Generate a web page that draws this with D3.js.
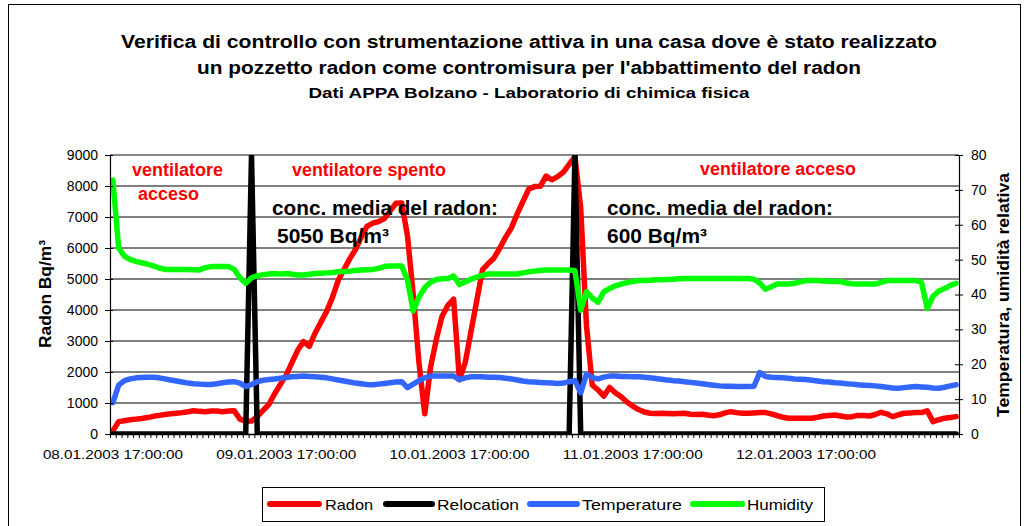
<!DOCTYPE html>
<html><head><meta charset="utf-8">
<script src="https://cdn.jsdelivr.net/npm/d3@7"></script>
<style>
body{margin:0;background:#fff}
svg{display:block}
text{font-family:"Liberation Sans",Arial,sans-serif}
</style>
</head><body>
<svg id="c" width="1028" height="526"></svg>
<script>
// ---------- DATA ----------
const tickLabels = ["08.01.2003 17:00:00","09.01.2003 17:00:00","10.01.2003 17:00:00","11.01.2003 17:00:00","12.01.2003 17:00:00"];
const labelEvery = 30; // one label every 30 readings
const seriesNames = ["Radon","Relocation","Temperature","Humidity"];
const seriesColors = ["#ff0000","#000000","#3366ff","#00ff00"];

const radon = [
100,400,430,460,480,500,530,570,600,630,
650,670,690,720,750,730,720,745,740,720,
740,750,480,410,420,560,760,950,1300,1600,
1900,2300,2700,2980,2830,3250,3600,3950,4400,4950,
5300,5650,5950,6350,6700,6800,6850,6950,7200,7440,
7450,6400,4500,2300,650,2150,3050,3800,4150,4350,
1750,2300,3300,4300,5300,5500,5680,6000,6350,6650,
7100,7500,7900,7980,7990,8320,8200,8300,8450,8700,
8950,7300,3500,1580,1420,1220,1500,1330,1200,1030,
900,790,710,670,665,670,660,650,660,670,
640,630,640,610,590,620,680,720,690,670,
670,680,690,690,650,590,540,510,505,510,
505,510,540,580,600,610,580,550,560,600,
600,580,630,700,650,560,620,670,680,690,
690,750,400,460,510,530,560];

const relocation = [
0,0,0,0,0,0,0,0,0,0,
0,0,0,0,0,0,0,0,0,0,
0,0,0,0,9000,0,0,0,0,0,
0,0,0,0,0,0,0,0,0,0,
0,0,0,0,0,0,0,0,0,0,
0,0,0,0,0,0,0,0,0,0,
0,0,0,0,0,0,0,0,0,0,
0,0,0,0,0,0,0,0,0,0,
9000,0,0,0,0,0,0,0,0,0,
0,0,0,0,0,0,0,0,0,0,
0,0,0,0,0,0,0,0,0,0,
0,0,0,0,0,0,0,0,0,0,
0,0,0,0,0,0,0,0,0,0,
0,0,0,0,0,0,0,0,0,0,
0,0,0,0,0,0,0];

const temperature = [
9,14,15.3,15.8,16.1,16.2,16.3,16.3,16.1,15.8,
15.5,15.2,14.9,14.6,14.4,14.3,14.2,14.2,14.4,14.7,
14.9,15,14.6,13.6,14.2,15,15.4,15.6,15.8,16,
16.2,16.4,16.5,16.6,16.5,16.4,16.3,16.1,15.8,15.5,
15.2,14.9,14.6,14.4,14.2,14.1,14.3,14.5,14.7,14.9,
15,13.3,14.3,15.3,16.1,16.6,16.6,16.6,16.6,16.6,
15.6,16.1,16.4,16.4,16.4,16.3,16.3,16.2,16,15.8,
15.5,15.2,15,14.9,14.8,14.7,14.6,14.5,14.6,15,
15.3,11.8,17.2,16.2,15.8,16.3,16.6,16.6,16.5,16.5,
16.4,16.4,16.3,16.1,15.9,15.7,15.5,15.3,15.2,15,
14.8,14.6,14.4,14.2,14,13.8,13.7,13.7,13.6,13.6,
13.6,13.7,17.6,16.5,16.3,16.2,16.1,16,15.8,15.7,
15.6,15.4,15.2,15,14.9,14.7,14.6,14.4,14.3,14.1,
14,13.9,13.8,13.6,13.4,13.2,13.1,13.3,13.5,13.6,
13.5,13.4,13.2,13.1,13.4,13.8,14.1];

const humidity = [
72.8,53.3,51,50,49.5,49.1,48.7,48.2,47.6,47.2,
47.2,47.2,47.2,47.2,47.1,47,47.7,48,48,48,
48,47.2,44.8,43.2,44.8,45.4,45.7,45.9,46,45.9,
46,45.8,45.6,45.6,45.8,46,46.1,46.2,46.3,46.5,
46.6,46.7,46.9,47,47.1,47.2,47.5,48,48.2,48.2,
48.2,44.2,35.3,39.3,42,43.5,44.3,44.5,44.6,45.3,
42.9,43.6,44.4,45,45.5,45.9,45.9,45.9,45.9,45.9,
45.9,46.2,46.5,46.7,46.9,47,47,47,47,47,
46.8,35.5,40.8,39,37.8,40.8,41.7,42.5,43,43.4,
43.7,44,44,44.1,44.2,44.2,44.3,44.4,44.5,44.6,
44.6,44.6,44.6,44.6,44.6,44.6,44.6,44.6,44.6,44.6,
44.6,44.4,43.3,41.5,42.2,43,43,43,43.2,43.6,
44,44,44,43.9,43.8,43.7,43.7,43.3,43.1,43,
43,43,43,43.5,44,44,44,44,44,44,
43.5,36,39.5,41,41.7,42.6,43.2];

const leftTicks = [0,1000,2000,3000,4000,5000,6000,7000,8000,9000];
const rightTicks = [0,10,20,30,40,50,60,70,80];

// ---------- LAYOUT ----------
const svg = d3.select("#c");
const L = 110, R = 959, T = 155, B = 434;
const N = radon.length;

svg.append("rect").attr("x",8.5).attr("y",4.5).attr("width",1012).attr("height",560)
  .attr("fill","none").attr("stroke","#000").attr("stroke-width",1);

const x = d3.scaleBand().domain(d3.range(N)).range([L,R]).padding(0);
const xb = d3.scaleLinear().domain([0,N]).range([L,R]);
const yL = d3.scaleLinear().domain([0,9000]).range([B,T]);
const yR = d3.scaleLinear().domain([0,80]).range([B,T]);
const cx = i => x(i) + x.bandwidth()/2;

// gridlines
svg.append("g").selectAll("line").data(leftTicks.slice(1,-1)).join("line")
  .attr("x1",L).attr("x2",R).attr("y1",d=>yL(d)).attr("y2",d=>yL(d))
  .attr("stroke","#000").attr("stroke-width",1);
// plot top border
svg.append("line").attr("x1",L).attr("x2",R).attr("y1",T).attr("y2",T)
  .attr("stroke","#888").attr("stroke-width",2);

// series
svg.append("clipPath").attr("id","pc").append("rect")
  .attr("x",L).attr("y",T).attr("width",R-L).attr("height",B-T+0.5);
const gLines = svg.append("g").attr("clip-path","url(#pc)");
const lineL = d3.line().x((d,i)=>cx(i)).y(d=>yL(d)).curve(d3.curveLinear);
const lineR = d3.line().x((d,i)=>cx(i)).y(d=>yR(d)).curve(d3.curveLinear);
const sets = [[radon,lineL],[relocation,lineL],[temperature,lineR],[humidity,lineR]];
sets.forEach(([data,gen],k)=>{
  gLines.append("path").attr("d",gen(data)).attr("fill","none")
    .attr("stroke",seriesColors[k]).attr("stroke-width",5.5)
    .attr("stroke-linejoin","round").attr("stroke-linecap","round");
});

// left axis
const axL = svg.append("g").attr("transform",`translate(${L},0)`)
  .call(d3.axisLeft(yL).tickValues(leftTicks).tickFormat(d3.format("d")).tickSizeInner(5).tickSizeOuter(0).tickPadding(7));
axL.select(".domain").attr("stroke","#000").attr("stroke-width",1.2);
axL.selectAll(".tick line").attr("x1",3).attr("x2",-5);
axL.selectAll("text").attr("font-size",14).attr("fill","#000");

// right axis
const axR = svg.append("g").attr("transform",`translate(${R},0)`)
  .call(d3.axisRight(yR).tickValues(rightTicks).tickFormat(d3.format("d")).tickSizeInner(4).tickSizeOuter(0).tickPadding(8));
axR.select(".domain").attr("stroke","#000").attr("stroke-width",1.2);
axR.selectAll(".tick line").attr("x1",-4).attr("x2",4);
axR.selectAll("text").attr("font-size",14).attr("fill","#000");

// bottom axis: ticks at every reading boundary
const axB = svg.append("g").attr("transform",`translate(0,${B})`)
  .call(d3.axisBottom(xb).tickValues(d3.range(N+1)).tickFormat("").tickSizeInner(4).tickSizeOuter(0));
axB.select(".domain").attr("stroke","#000").attr("stroke-width",1.5);
axB.selectAll(".tick line").attr("stroke","#000");
// bottom labels
const labIdx = tickLabels.map((d,k)=>k*labelEvery);
const axBL = svg.append("g").attr("transform",`translate(0,${B})`)
  .call(d3.axisBottom(x).tickValues(labIdx).tickFormat(i=>tickLabels[i/labelEvery]).tickSize(0).tickPadding(16));
axBL.select(".domain").remove();
axBL.selectAll("text").attr("font-size",12.5).attr("fill","#000")
  .attr("textLength",140).attr("lengthAdjust","spacingAndGlyphs");

// axis titles
svg.append("text").attr("transform","translate(51,294) rotate(-90)").attr("text-anchor","middle")
  .attr("font-size",17).attr("font-weight","bold").attr("textLength",108).attr("lengthAdjust","spacingAndGlyphs")
  .text("Radon Bq/m³");
svg.append("text").attr("transform","translate(1009,295) rotate(-90)").attr("text-anchor","middle")
  .attr("font-size",17).attr("font-weight","bold").attr("textLength",244).attr("lengthAdjust","spacingAndGlyphs")
  .text("Temperatura, umidità relativa");

// titles
const titles = [
  ["Verifica di controllo con strumentazione attiva in una casa dove è stato realizzato",48,18,816],
  ["un pozzetto radon come contromisura per l'abbattimento del radon",74,18,664],
  ["Dati APPA Bolzano - Laboratorio di chimica fisica",98,15,441]
];
titles.forEach(([t,y,fs,tl])=>{
  svg.append("text").attr("x",529).attr("y",y).attr("text-anchor","middle")
    .attr("font-size",fs).attr("font-weight","bold").attr("textLength",tl)
    .attr("lengthAdjust","spacingAndGlyphs").text(t);
});

// annotations
const notes = [
  ["ventilatore",132,176,"#ff0000",18,91],
  ["acceso",138,200,"#ff0000",18,61],
  ["ventilatore spento",292,176,"#ff0000",18,154],
  ["ventilatore acceso",700,175,"#ff0000",18,156],
  ["conc. media del radon:",272,215,"#000",20,226],
  ["5050 Bq/m³",277,243,"#000",20,112],
  ["conc. media del radon:",607,215,"#000",20,226],
  ["600 Bq/m³",607,243,"#000",20,100]
];
notes.forEach(([t,xx,yy,c,fs,tl])=>{
  svg.append("text").attr("x",xx).attr("y",yy).attr("fill",c).attr("font-size",fs)
    .attr("font-weight","bold").attr("textLength",tl).attr("lengthAdjust","spacingAndGlyphs").text(t);
});

// legend
svg.append("rect").attr("x",262.5).attr("y",487.5).attr("width",562).attr("height",34)
  .attr("fill","#fff").attr("stroke","#000").attr("stroke-width",1);
const leg = [[270,319,325,48],[386,432,437,82],[530,577,582,100],[693,742,747,66]];
leg.forEach(([s1,s2,tx,tw],k)=>{
  svg.append("line").attr("x1",s1).attr("x2",s2).attr("y1",504).attr("y2",504)
    .attr("stroke",seriesColors[k]).attr("stroke-width",6).attr("stroke-linecap","round");
  svg.append("text").attr("x",tx).attr("y",510).attr("font-size",15)
    .attr("textLength",tw).attr("lengthAdjust","spacingAndGlyphs").text(seriesNames[k]);
});
</script>
</body></html>
